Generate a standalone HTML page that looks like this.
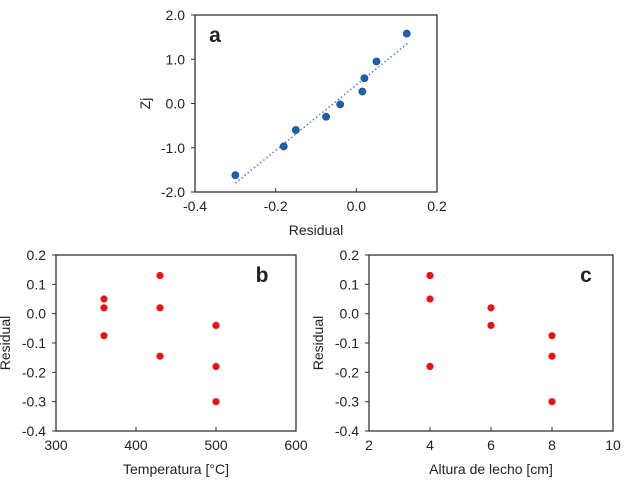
<!DOCTYPE html>
<html><head><meta charset="utf-8"><style>
body{margin:0;background:#fff;}
svg text{font-family:"Liberation Sans",Arial,sans-serif;fill:#222;}
</style></head><body>
<svg id="c" width="624" height="477" viewBox="0 0 624 477"></svg>
<script>
// Panel a data
const aResidual=[-0.30,-0.18,-0.15,-0.075,-0.04,0.015,0.02,0.05,0.125];
const aZj=[-1.62,-0.97,-0.60,-0.30,-0.02,0.27,0.57,0.95,1.58];
const aTrendX=[-0.30,0.13];
const aTrendY=[-1.80,1.38];
const aXTicks=["-0.4","-0.2","0.0","0.2"];
const aYTicks=["-2.0","-1.0","0.0","1.0","2.0"];
// Panel b data
const bTemp=[360,360,360,430,430,430,500,500,500];
const bResidual=[0.05,0.02,-0.075,0.13,0.02,-0.145,-0.04,-0.18,-0.30];
const bXTicks=["300","400","500","600"];
// Panel c data
const cHeight=[4,4,4,6,6,8,8,8];
const cResidual=[0.13,0.05,-0.18,0.02,-0.04,-0.075,-0.145,-0.30];
const cXTicks=["2","4","6","8","10"];
const resYTicks=["-0.4","-0.3","-0.2","-0.1","0.0","0.1","0.2"];

const svg=document.getElementById('c');
const NS='http://www.w3.org/2000/svg';
function mk(tag,attrs,parent){const e=document.createElementNS(NS,tag);for(const k in attrs)e.setAttribute(k,attrs[k]);(parent||svg).appendChild(e);return e;}
function txt(s,x,y,anchor,size,parent,weight){const t=mk('text',{x:x,y:y,'text-anchor':anchor,'font-size':size,'font-weight':weight||'normal'},parent);t.textContent=s;return t;}

function panel(name,L,R,T,B,xmin,xmax,ymin,ymax,xt,yt,xlabel,ylabel,letter,letterX){
  const g=mk('g',{});
  
  
  const sx=v=>L+(v-xmin)/(xmax-xmin)*(R-L);
  const sy=v=>B-(v-ymin)/(ymax-ymin)*(B-T);
  const fr=mk('rect',{x:L,y:T,width:R-L,height:B-T,fill:'none',stroke:'#333','stroke-width':1.3},g);
  
  
  xt.forEach(s=>{const v=parseFloat(s);const x=sx(v);
    mk('line',{x1:x,x2:x,y1:B,y2:B-4,stroke:'#333'},g);
    const t=txt(s,x,B+19,'middle',14,g);
    
    });
  yt.forEach(s=>{const v=parseFloat(s);const y=sy(v);
    mk('line',{x1:L,x2:L-4,y1:y,y2:y,stroke:'#333'},g);
    const t=txt(s,L-10,y+5,'end',14,g);
    
    });
  const xl=txt(xlabel,(L+R)/2,B+43,'middle',14,g);
  
  
  const cx=(name==='a')?L-45:L-46;
  const yl=txt(ylabel,cx,(T+B)/2,'middle',14,g);
  yl.setAttribute('transform','rotate(-90 '+cx+' '+(T+B)/2+')');
  
  
  const lt=txt(letter,letterX,T+27,'middle',21,g,'bold');
  
  
  return {g,sx,sy};
}

const pa=panel('a',195,437,15,192,-0.4,0.2,-2,2,aXTicks,aYTicks,'Residual','Zj','a',215);
const tl=mk('line',{x1:pa.sx(aTrendX[0]),y1:pa.sy(aTrendY[0]),x2:pa.sx(aTrendX[1]),y2:pa.sy(aTrendY[1]),stroke:'#4a7fd6','stroke-width':1.5,'stroke-dasharray':'1.5 2.5'},pa.g);


aResidual.forEach((v,i)=>{const c=mk('circle',{cx:pa.sx(v),cy:pa.sy(aZj[i]),r:3.6,fill:'#1f5fb0',stroke:'#134a8c','stroke-width':0.6},pa.g);
  
  });

const pb=panel('b',56,296,255,431,300,600,-0.4,0.2,bXTicks,resYTicks,'Temperatura [°C]','Residual','b',262);
bTemp.forEach((v,i)=>{const c=mk('circle',{cx:pb.sx(v),cy:pb.sy(bResidual[i]),r:3.6,fill:'#ee1111'},pb.g);
  
  });

const pc=panel('c',369,613,255,431,2,10,-0.4,0.2,cXTicks,resYTicks,'Altura de lecho [cm]','Residual','c',586);
cHeight.forEach((v,i)=>{const c=mk('circle',{cx:pc.sx(v),cy:pc.sy(cResidual[i]),r:3.6,fill:'#ee1111'},pc.g);
  
  });
</script>
</body></html>
